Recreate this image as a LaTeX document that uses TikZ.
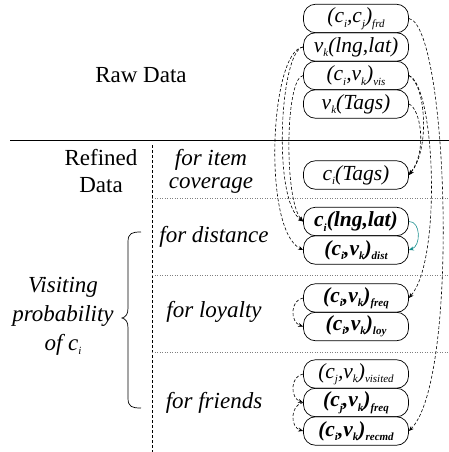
\documentclass[tikz,border=0pt]{standalone}
\usepackage{fontspec}
\setmainfont{Liberation Serif}
\usetikzlibrary{arrows.meta}
\definecolor{tealc}{RGB}{20,140,140}
\newcommand\sbx[1]{\raisebox{-0.45ex}{\fontsize{11}{11}\selectfont #1}}
\begin{document}
\begin{tikzpicture}[x=1pt,y=-1pt,
  box/.style={draw,line width=0.7pt,rounded corners=12pt,minimum width=105pt,minimum height=28.5pt,inner sep=0pt,font=\fontsize{21.5}{21.5}\selectfont\itshape},
  bbox/.style={box,font=\fontsize{21.5}{21.5}\selectfont\itshape\bfseries},
  lab/.style={font=\fontsize{23}{27}\selectfont,align=center},
  ilab/.style={font=\fontsize{23}{23}\selectfont\itshape,align=center},
  dep/.style={line width=0.6pt,dash pattern=on 3pt off 2pt,-{Stealth[length=5pt,width=4pt]}},
  sep/.style={line width=0.5pt,dotted,gray}]
\useasboundingbox (0,0) rectangle (449,452);
% separators
\draw[line width=1pt] (10,140) -- (449,140);
\draw[line width=0.5pt,dash pattern=on 3pt off 2pt] (152,145) -- (152,452);
\draw[sep] (152,198) -- (449,198);
\draw[sep] (152,275) -- (449,275);
\draw[sep] (152,352) -- (449,352);
% left labels
\node[lab] (raw) at (141,75) {Raw Data};
\node[lab] (ref) at (101,171) {Refined\\Data};
\node[ilab] (cov) at (211,171) {for item\\coverage};
\node[ilab] (fdist) at (214,237) {for distance};
\node[ilab] (floy) at (214,312) {for loyalty};
\node[ilab] (ffr) at (214,403) {for friends};
\node[ilab,font=\fontsize{23}{29}\selectfont\itshape] (vp) at (63,316) {Visiting\\probability\\of c\sbx{i}};
% brace
\draw[line width=0.7pt] (141,232) .. controls (132,232) and (128,233) .. (128,242)
  -- (128,308) .. controls (128,314) and (126,317) .. (122,318)
  .. controls (126,319) and (128,322) .. (128,328)
  -- (128,398) .. controls (128,407) and (132,408) .. (141,408);
% nodes
\node[box] (frd) at (356,18.5) {(c\sbx{i},c\sbx{j})\sbx{frd}};
\node[box] (lng) at (356,47) {v\sbx{k}(lng,lat)};
\node[box] (vis) at (356,75.5) {(c\sbx{i},v\sbx{k})\sbx{vis}};
\node[box] (vtags) at (356,104) {v\sbx{k}(Tags)};
\node[box] (ctags) at (356,175) {c\sbx{i}(Tags)};
\node[bbox] (clng) at (356,221.5) {c\sbx{i}(lng,lat)};
\node[bbox] (dist) at (356,250) {(c\sbx{i},v\sbx{k})\sbx{dist}};
\node[bbox] (freq) at (356,298) {(c\sbx{i},v\sbx{k})\sbx{freq}};
\node[bbox] (loy) at (356,326.5) {(c\sbx{i},v\sbx{k})\sbx{loy}};
\node[box] (visited) at (356,374) {(c\sbx{j},v\sbx{k})\sbx{visited}};
\node[bbox] (cjfreq) at (356,402.5) {(c\sbx{j},v\sbx{k})\sbx{freq}};
\node[bbox] (recmd) at (356,431) {(c\sbx{i},v\sbx{k})\sbx{recmd}};
% right dependencies
\draw[dep] (frd.east) .. controls (448,25) and (460,380) .. (recmd.east);
\draw[dep] (vis.east) .. controls (435,85) and (442,260) .. (freq.east);
\draw[dep] (vis.east) .. controls (426,85) and (430,150) .. (ctags.east);
\draw[dep] (vtags.east) .. controls (420,108) and (428,150) .. (ctags.east);
% left dependencies
\draw[dep] (lng.west) .. controls (270,50) and (262,230) .. (dist.west);
\draw[dep] (lng.west) .. controls (280,50) and (272,200) .. (clng.west);
\draw[dep] (vis.west) .. controls (285,78) and (284,200) .. (clng.west);
\draw[dep,tealc,dash pattern=] (clng.east) .. controls (421,221) and (421,246) .. (dist.east);
\draw[dep] (freq.west) .. controls (290,300) and (290,322) .. (loy.west);
\draw[dep] (visited.west) .. controls (290,376) and (290,398) .. (cjfreq.west);
\draw[dep] (cjfreq.west) .. controls (290,405) and (290,427) .. (recmd.west);
\end{tikzpicture}
\end{document}
